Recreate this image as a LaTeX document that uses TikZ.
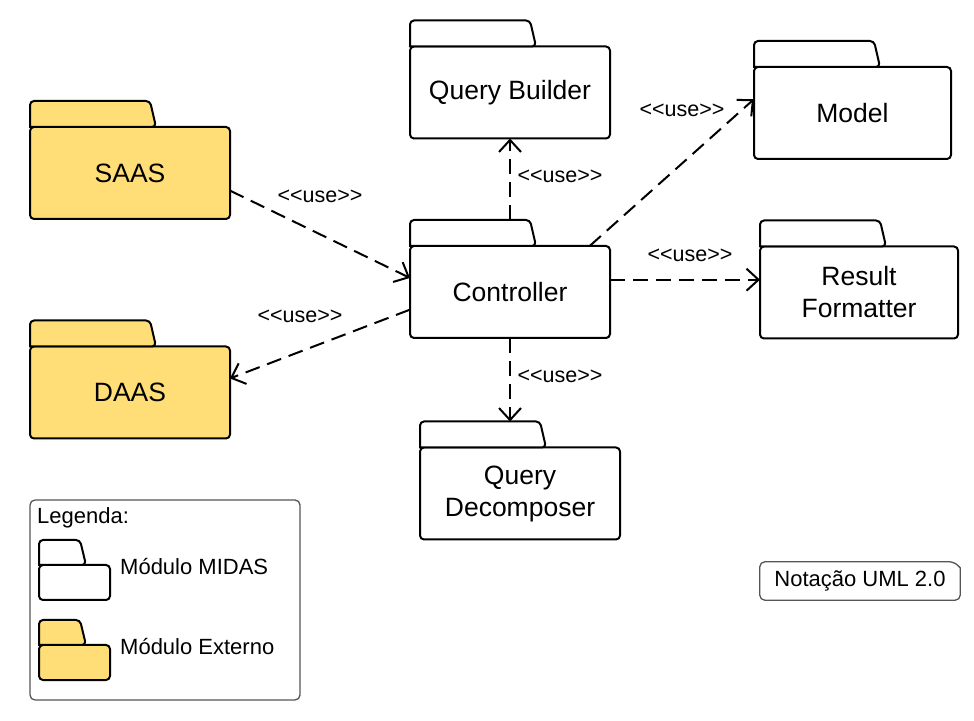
\documentclass[tikz,border=0pt]{standalone}
\usepackage{fontspec}
\setmainfont{Liberation Sans}
\usetikzlibrary{arrows.meta}
\definecolor{extyellow}{HTML}{FFDD77}
\definecolor{thingray}{HTML}{555555}

% folder tab on top of a package node: fill, node, tab width, tab height
\newcommand{\pkgtab}[4][white]{%
  \draw[outline,fill=#1] (#2.north west) [rounded corners=4pt]
    -- ++(0,#4) -- ++(#3,0) -- ++(6,-#4) [sharp corners] -- cycle;
}
\newcommand{\stereo}[1]{<\kern0pt<#1>\kern0pt>}

\begin{document}
\begin{tikzpicture}[x=1pt,y=1pt,
  outline/.style={draw=black,line width=2pt,line join=miter},
  pkg/.style={outline,rounded corners=4pt,minimum width=200pt,minimum height=92pt,
    inner sep=0pt,outer sep=0pt,align=center,font=\fontsize{26.5}{32}\selectfont},
  minipkg/.style={outline,rounded corners=4pt,minimum width=71pt,minimum height=35pt,
    inner sep=0pt,outer sep=0pt},
  use/.style={line width=2pt,dash pattern=on 15pt off 8pt,
    -{Straight Barb[length=12pt,width=22pt]}},
  uselabel/.style={font=\fontsize{21.5}{26}\selectfont},
  smalltext/.style={font=\fontsize{22}{26}\selectfont}]
\useasboundingbox (0,0) rectangle (974,720);

% packages
\node[pkg] (qbuilder) at (510,627.5) {Query Builder};
\pkgtab{qbuilder}{120}{26}
\node[pkg,minimum width=197pt] (model) at (852.5,607) {Model};
\pkgtab{model}{120}{26}
\node[pkg,fill=extyellow] (saas) at (130,547) {SAAS};
\pkgtab[extyellow]{saas}{120}{26}
\node[pkg] (ctrl) at (510,428) {Controller};
\pkgtab{ctrl}{120}{26}
\node[pkg,minimum width=198pt] (rformat) at (859,427.5) {Result\\Formatter};
\pkgtab{rformat}{120}{26}
\node[pkg,fill=extyellow] (daas) at (130,327.5) {DAAS};
\pkgtab[extyellow]{daas}{120}{26}
\node[pkg] (qdecomp) at (520,226.5) {Query\\Decomposer};
\pkgtab{qdecomp}{120}{26}

\coordinate (ctrl-top) at ([yshift=26pt]ctrl.north);
\coordinate (qd-top) at ([yshift=26pt]qdecomp.north);

% dependencies
\draw[use] (ctrl-top) -- (ctrl-top |- qbuilder.south);
\draw[use] (ctrl.30) -- (model.172);
\draw[use] (saas.-10) -- (ctrl.172);
\draw[use] (ctrl.190) -- (daas.8);
\draw[use] (ctrl.7) -- (ctrl.7 -| rformat.west);
\draw[use] (ctrl.south) -- (ctrl.south |- qd-top);

\node[uselabel] (lbl-qb) at (560,544) {\stereo{use}};
\node[uselabel] (lbl-model) at (682,610) {\stereo{use}};
\node[uselabel] (lbl-saas) at (320,524) {\stereo{use}};
\node[uselabel] (lbl-daas) at (300,404) {\stereo{use}};
\node[uselabel] (lbl-rf) at (690,465) {\stereo{use}};
\node[uselabel] (lbl-qd) at (560,344) {\stereo{use}};

% legend
\draw[draw=thingray,line width=1.3pt,rounded corners=5pt] (30,220) rectangle (300,20);
\node[smalltext,anchor=west,inner sep=0pt] (legtitle) at (37,202) {Legenda:};
\node[minipkg] (legmidas) at (74.5,137.5) {};
\pkgtab{legmidas}{41}{25}
\node[minipkg,fill=extyellow] (legext) at (74.5,57.5) {};
\pkgtab[extyellow]{legext}{41}{25}
\node[smalltext,anchor=west,inner sep=0pt] (legmidastext) at (120,153) {Módulo MIDAS};
\node[smalltext,anchor=west,inner sep=0pt] (legexttext) at (120,73) {Módulo Externo};

% note
\node[smalltext,minimum width=200pt,minimum height=38pt] (note) at (860,139) {Notação UML 2.0};
\draw[draw=thingray,line width=1.3pt] ([xshift=-6pt]note.north east) -- ([yshift=-6pt]note.north east)
  [rounded corners=5pt] -- (note.south east) -- (note.south west) -- (note.north west) -- cycle;
\end{tikzpicture}
\end{document}
